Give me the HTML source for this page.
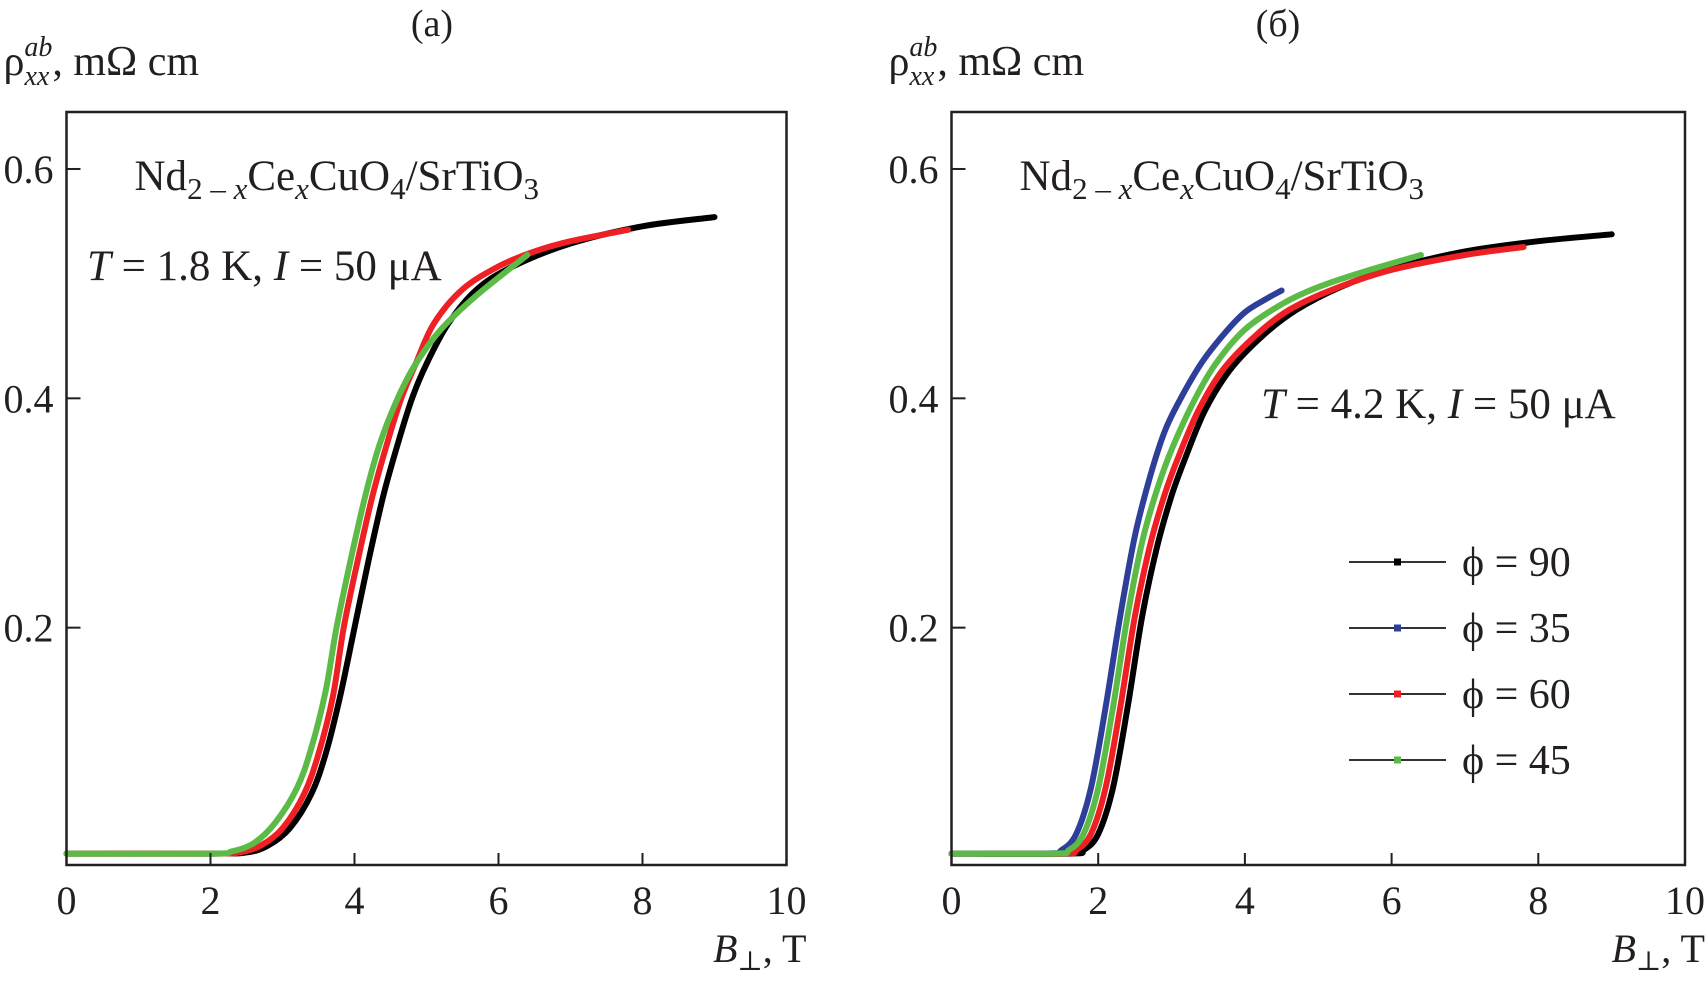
<!DOCTYPE html>
<html><head><meta charset="utf-8">
<style>
html,body{margin:0;padding:0;background:#fff;}
svg{display:block;font-family:"Liberation Serif","DejaVu Serif",serif;fill:#231f20;}
</style></head>
<body>
<svg id="fig" width="1705" height="984" viewBox="0 0 1705 984" xmlns="http://www.w3.org/2000/svg"></svg>
<script>
// ---------- data ----------
const xTicks = [0, 2, 4, 6, 8, 10];
const yTicks = [0.2, 0.4, 0.6];
const yTickLabels = ["0.2", "0.4", "0.6"];

// Panel (a), T = 1.8 K
const aPhi90B  = [0,2,2.5,2.8,3.1,3.4,3.6,3.8,4.0,4.2,4.4,4.6,4.8,5.0,5.3,5.7,6.2,7,8,9];
const aPhi90R  = [.003,.003,.004,.01,.025,.055,.09,.14,.2,.26,.315,.36,.4,.43,.465,.495,.515,.535,.55,.558];
const aPhi60B  = [0,2,2.4,2.7,3.0,3.3,3.5,3.7,3.85,4.05,4.25,4.45,4.65,4.85,5.1,5.5,6,6.5,7,7.8];
const aPhi60R  = [.003,.003,.004,.01,.025,.055,.09,.14,.2,.26,.315,.36,.4,.43,.465,.495,.515,.528,.537,.547];
const aPhi45B  = [0,2,2.3,2.6,2.9,3.2,3.4,3.6,3.75,3.95,4.15,4.35,4.6,4.85,5.2,5.7,6.4];
const aPhi45R  = [.003,.003,.005,.012,.03,.06,.095,.145,.2,.26,.315,.36,.4,.43,.46,.49,.525];

// Panel (б), T = 4.2 K
const bPhi90B  = [0,1.6,1.8,2.0,2.2,2.4,2.6,2.8,3.0,3.2,3.46,3.8,4.25,4.7,5.3,6,7,8,9];
const bPhi90R  = [.003,.003,.006,.02,.06,.13,.21,.27,.315,.35,.39,.425,.455,.477,.497,.513,.528,.537,.543];
const bPhi60B  = [0,1.5,1.7,1.9,2.1,2.3,2.5,2.7,2.9,3.1,3.37,3.7,4.15,4.6,5.2,6,7,7.8];
const bPhi60R  = [.003,.003,.006,.02,.06,.13,.21,.27,.315,.35,.39,.425,.455,.477,.495,.512,.525,.532];
const bPhi45B  = [0,1.4,1.6,1.8,2.0,2.2,2.4,2.6,2.8,3.0,3.3,3.6,4.0,4.5,5,5.6,6.4];
const bPhi45R  = [.003,.003,.006,.02,.06,.13,.21,.275,.32,.355,.397,.43,.46,.482,.497,.51,.525];
const bPhi35B  = [0,1.3,1.5,1.7,1.9,2.1,2.3,2.5,2.7,2.9,3.1,3.4,3.7,4.0,4.3,4.5];
const bPhi35R  = [.003,.003,.006,.02,.06,.13,.21,.28,.33,.37,.397,.43,.455,.475,.487,.494];

const legendLabels = ["ϕ = 90", "ϕ = 35", "ϕ = 60", "ϕ = 45"];
const legendColors = ["#000000", "#2e3f9a", "#ee2024", "#5bbb46"];

// ---------- drawing ----------
const NS = "http://www.w3.org/2000/svg";
const svg = document.getElementById("fig");
function mk(tag, attrs, parent) {
  const e = document.createElementNS(NS, tag);
  for (const k in attrs) e.setAttribute(k, attrs[k]);
  (parent || svg).appendChild(e);
  return e;
}
function smoothPath(pts) {
  let d = "M" + pts[0][0].toFixed(1) + "," + pts[0][1].toFixed(1);
  for (let i = 0; i < pts.length - 1; i++) {
    const p0 = pts[Math.max(0, i - 1)], p1 = pts[i], p2 = pts[i + 1], p3 = pts[Math.min(pts.length - 1, i + 2)];
    const c1x = p1[0] + (p2[0] - p0[0]) / 6, c1y = p1[1] + (p2[1] - p0[1]) / 6;
    const c2x = p2[0] - (p3[0] - p1[0]) / 6, c2y = p2[1] - (p3[1] - p1[1]) / 6;
    d += " C" + c1x.toFixed(1) + "," + c1y.toFixed(1) + " " + c2x.toFixed(1) + "," + c2y.toFixed(1) + " " + p2[0].toFixed(1) + "," + p2[1].toFixed(1);
  }
  return d;
}

function panel(opt) {
  const g = mk("g", {});
  
  
  const L = opt.left, R = opt.right, T = 112, B = 865;
  const xS = v => L + (R - L) * v / 10;
  const yS = v => 857 - v * 1146.7;

  opt.series.forEach(s => {
    const pts = s.b.map((b, i) => [xS(b), yS(s.r[i])]);
    const p = mk("path", { d: smoothPath(pts), fill: "none", stroke: s.color, "stroke-width": 6, "stroke-linecap": "round", "stroke-linejoin": "round" }, g);
    
    
  });

  const fr = mk("rect", { x: L, y: T, width: R - L, height: B - T, fill: "none", stroke: "#231f20", "stroke-width": 2.5 }, g);
  
  

  xTicks.forEach((t) => {
    if (t > 0 && t < 10) {
      const tk = mk("line", { x1: xS(t), x2: xS(t), y1: B, y2: B - 12, stroke: "#231f20", "stroke-width": 2 }, g);
      
      
    }
    const tl = mk("text", { x: xS(t), y: 914, "font-size": 40, "text-anchor": "middle" }, g);
    tl.textContent = String(t);
    
    
  });
  yTicks.forEach((t, i) => {
    const tk = mk("line", { x1: L, x2: L + 14, y1: yS(t), y2: yS(t), stroke: "#231f20", "stroke-width": 2 }, g);
    
    
    const tl = mk("text", { x: L - 13, y: yS(t) + 14, "font-size": 40, "text-anchor": "end" }, g);
    tl.textContent = yTickLabels[i];
    
    
  });

  const ti = mk("text", { x: opt.titleX, y: 36, "font-size": 38, "text-anchor": "middle" }, g);
  ti.textContent = opt.title;
  
  

  const yt = mk("text", { x: L - 63, y: 75, "font-size": 42 }, g);
  yt.innerHTML = 'ρ<tspan font-size="28" font-style="italic" dy="10">xx</tspan><tspan font-size="28" font-style="italic" dx="-25" dy="-29">ab</tspan><tspan dy="19">, mΩ cm</tspan>';
  
  

  const xt = mk("text", { x: R + 20, y: 962, "font-size": 40, "text-anchor": "end" }, g);
  xt.innerHTML = '<tspan font-style="italic">B</tspan><tspan font-size="27" dy="8">⊥</tspan><tspan dy="-8">, T</tspan>';
  
  

  const f = mk("text", { x: L + 68, y: 190, "font-size": 43 }, g);
  f.innerHTML = 'Nd<tspan font-size="31" dy="9">2 – <tspan font-style="italic">x</tspan></tspan><tspan dy="-9">Ce</tspan><tspan font-size="31" font-style="italic" dy="9">x</tspan><tspan dy="-9">CuO</tspan><tspan font-size="31" dy="9">4</tspan><tspan dy="-9">/SrTiO</tspan><tspan font-size="31" dy="9">3</tspan>';
  
  

  const c = mk("text", { x: opt.condX, y: opt.condY, "font-size": 43 }, g);
  c.innerHTML = '<tspan font-style="italic">T</tspan> = ' + opt.temp + ' K, <tspan font-style="italic">I</tspan> = 50 μA';
  
  
  return { g, xS, yS };
}

panel({
  name: "panel-a", left: 66.5, right: 786.5, title: "(a)", titleX: 432,
  condX: 87, condY: 280, temp: "1.8",
  series: [
    { name: "curve-phi-90", b: aPhi90B, r: aPhi90R, color: "#000000" },
    { name: "curve-phi-60", b: aPhi60B, r: aPhi60R, color: "#ee2024" },
    { name: "curve-phi-45", b: aPhi45B, r: aPhi45R, color: "#5bbb46" }
  ]
});
panel({
  name: "panel-b", left: 951.5, right: 1685, title: "(б)", titleX: 1278,
  condX: 1261, condY: 418, temp: "4.2",
  series: [
    { name: "curve-phi-90", b: bPhi90B, r: bPhi90R, color: "#000000" },
    { name: "curve-phi-60", b: bPhi60B, r: bPhi60R, color: "#ee2024" },
    { name: "curve-phi-35", b: bPhi35B, r: bPhi35R, color: "#2e3f9a" },
    { name: "curve-phi-45", b: bPhi45B, r: bPhi45R, color: "#5bbb46" }
  ]
});

const lg = mk("g", {});


legendLabels.forEach((lab, i) => {
  const y = 562 + i * 66;
  const e = mk("g", {}, lg);
  
  
  mk("line", { x1: 1349, x2: 1446, y1: y, y2: y, stroke: "#333", "stroke-width": 2 }, e);
  mk("rect", { x: 1394, y: y - 3.5, width: 7, height: 7, fill: legendColors[i] }, e);
  const t = mk("text", { x: 1462, y: y + 14, "font-size": 42 }, e);
  t.textContent = lab;
});
</script>
</body></html>
